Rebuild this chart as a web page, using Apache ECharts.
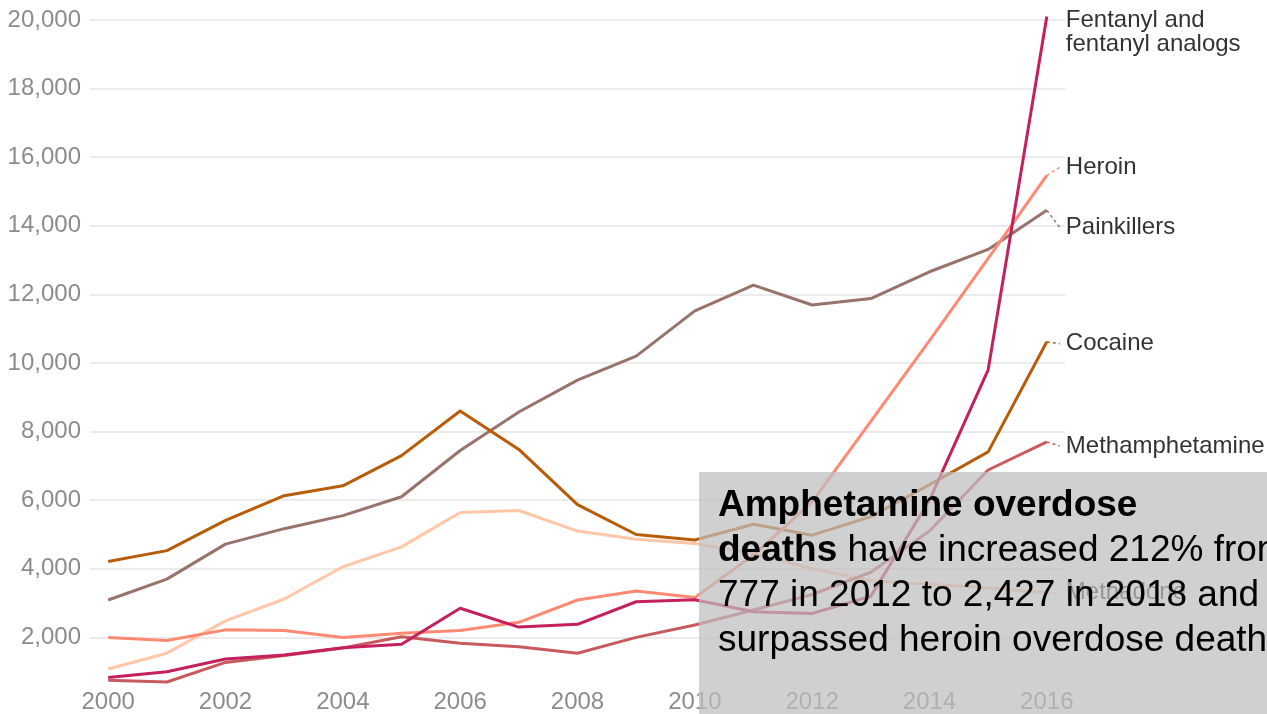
<!DOCTYPE html>
<html>
<head>
<meta charset="utf-8">
<script src="https://cdn.jsdelivr.net/npm/echarts@6/dist/echarts.min.js"></script>
<style>
html,body{margin:0;padding:0;background:#fff;}
#chart{width:1267px;height:714px;}
</style>
</head>
<body>
<div id="chart"></div>
<script>
// ---- data ----
var years = [2000,2001,2002,2003,2004,2005,2006,2007,2008,2009,2010,2011,2012,2013,2014,2015,2016];
var xTickLabels = [2000,2002,2004,2006,2008,2010,2012,2014,2016];
var fentanyl    = [830,1000,1370,1490,1700,1800,2850,2300,2380,3040,3100,2750,2700,3200,6000,9800,20100];
var heroin      = [2000,1910,2220,2200,2000,2120,2200,2440,3090,3350,3160,4400,5950,8300,10650,13050,15470];
var painkillers = [3090,3700,4720,5170,5550,6100,7450,8570,9500,10200,11520,12270,11690,11880,12660,13310,14450];
var cocaine     = [4210,4530,5410,6130,6420,7300,8600,7480,5870,5000,4840,5300,4980,5520,6450,7410,10620];
var meth        = [750,700,1270,1470,1690,2020,1830,1730,1540,2000,2360,2800,3250,3900,5100,6880,7700];
var methadone   = [1080,1540,2480,3120,4060,4640,5640,5700,5100,4860,4740,4450,4000,3650,3550,3450,3300];
var seriesNames = ['Fentanyl and\nfentanyl analogs','Heroin','Painkillers','Cocaine','Methamphetamine','Methadone'];

// ---- layout / style ----
var colors = ['#c4205c','#ff8a73','#98736b','#b95c08','#c85a5e','#ffc6a8'];
var labelShiftPx = [16,-8,17,2,4,0];
var gridTop = 20, gridBottom = 6, chartH = 714;
var yMax = 20000;
var unitsPerPx = yMax / (chartH - gridTop - gridBottom);
var font = '"Liberation Sans", Arial, sans-serif';

var allData = [fentanyl, heroin, painkillers, cocaine, meth, methadone];
var order = [5,2,3,4,1,0]; // draw order (fentanyl on top)

var series = order.map(function(i){
  var vals = allData[i];
  var last = vals[vals.length-1];
  return {
    type:'line',
    name: seriesNames[i],
    data: years.map(function(y,k){return [y, vals[k]];}),
    showSymbol:false,
    symbol:'none',
    clip:false,
    z: 2 + order.indexOf(i),
    lineStyle:{color:colors[i], width:3, join:'round'},
    itemStyle:{color:colors[i]},
    endLabel:{
      show:true,
      formatter: seriesNames[i],
      distance: 19,
      offset:[0, labelShiftPx[i]],
      color:'#333',
      fontSize:24,
      lineHeight:24,
      fontFamily:font
    },
    markLine:{
      silent:true,
      animation:false,
      symbol:['none','none'],
      label:{show:false},
      lineStyle:{color:colors[i], type:[3,3], width:1.5},
      data:[[{coord:[2016, last]},{coord:[2016.22, last - labelShiftPx[i]*unitsPerPx]}]]
    }
  };
});

var chart = echarts.init(document.getElementById('chart'), null, {renderer:'canvas'});
chart.setOption({
  animation:false,
  backgroundColor:'#fff',
  grid:{left:90, right:202, top:gridTop, bottom:gridBottom, containLabel:false},
  xAxis:{
    type:'value', min:1999.69, max:2016.31,
    axisLine:{show:false}, axisTick:{show:false}, splitLine:{show:false},
    axisLabel:{
      customValues: xTickLabels,
      formatter:function(v){return String(v);},
      color:'#8c8c8c', fontSize:24, fontFamily:font, margin:-16
    }
  },
  yAxis:{
    type:'value', min:0, max:yMax, interval:2000,
    axisLine:{show:false}, axisTick:{show:false},
    splitLine:{show:true, showMinLine:false, lineStyle:{color:'#ebebeb', width:2}},
    axisLabel:{
      color:'#8c8c8c', fontSize:24, fontFamily:font, margin:9,
      formatter:function(v){ return v === 0 ? '' : v.toLocaleString('en-US'); }
    }
  },
  series: series,
  graphic:[
    {type:'rect', z:100, left:699, top:472, shape:{width:620, height:260},
      style:{fill:'rgba(190,190,190,0.72)'}},
    {type:'text', z:101, left:718, top:483,
      style:{
        text:'{b|Amphetamine overdose}\n{b|deaths} have increased 212% from\n777 in 2012 to 2,427 in 2018 and\nsurpassed heroin overdose deaths',
        fontSize:37, lineHeight:45, fontFamily:font, fill:'#000',
        rich:{b:{fontWeight:'bold', fontSize:37, lineHeight:45, fontFamily:font, fill:'#000'}}
      }}
  ]
});
</script>
</body>
</html>
